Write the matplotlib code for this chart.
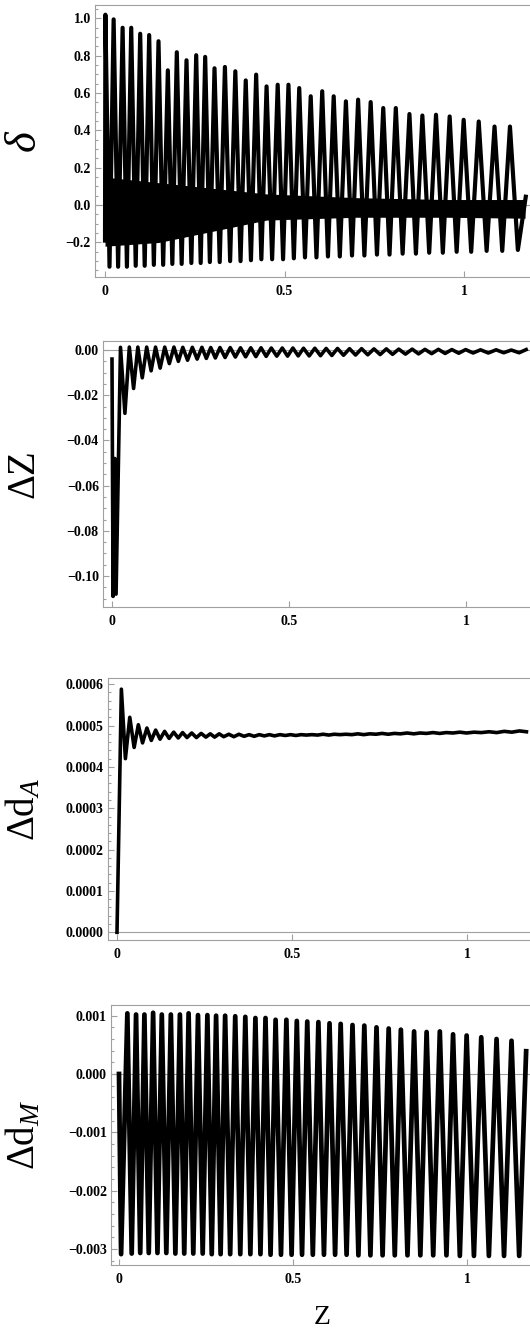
"""Four stacked panels (delta, dZ, d_A, d_M) against z, Mathematica-style frames."""

import matplotlib

matplotlib.use("Agg")
import matplotlib.pyplot as plt  # noqa: E402
from matplotlib.ticker import FixedLocator, MultipleLocator  # noqa: E402

plt.rcParams["font.family"] = "serif"
plt.rcParams["font.serif"] = ["Liberation Serif", "DejaVu Serif"]
plt.rcParams["mathtext.fontset"] = "custom"
plt.rcParams["mathtext.rm"] = "Liberation Serif"
plt.rcParams["mathtext.it"] = "Liberation Serif:italic"

# --- data --------------------------------------------------------------------
# positions of the oscillation crests / troughs shared by all four panels
z_crest = [0.024, 0.049, 0.073, 0.098, 0.123, 0.149, 0.175, 0.200, 0.227, 0.254,
           0.279, 0.305, 0.334, 0.363, 0.392, 0.421, 0.450, 0.481, 0.511, 0.541,
           0.573, 0.605, 0.637, 0.671, 0.705, 0.740, 0.775, 0.810, 0.848, 0.884,
           0.922, 0.960, 0.999, 1.041, 1.085, 1.128]
z_trough = [0.0365, 0.061, 0.0855, 0.1105, 0.136, 0.162, 0.1875, 0.2135, 0.2405,
            0.2665, 0.292, 0.3195, 0.3485, 0.3775, 0.4065, 0.4355, 0.4655, 0.496,
            0.526, 0.557, 0.589, 0.621, 0.654, 0.688, 0.7225, 0.7575, 0.7925,
            0.829, 0.866, 0.903, 0.941, 0.9795, 1.020, 1.063, 1.1065, 1.150]

# delta
delta_head_z = [0.0, 0.001, 0.0125]
delta_head = [-0.19, 1.02, -0.33]
delta_crest = [0.995, 0.95, 0.95, 0.918, 0.911, 0.878, 0.722, 0.819, 0.776, 0.803,
               0.794, 0.733, 0.740, 0.717, 0.668, 0.699, 0.636, 0.645, 0.645, 0.627,
               0.583, 0.610, 0.583, 0.556, 0.565, 0.552, 0.520, 0.520, 0.488, 0.480,
               0.484, 0.475, 0.457, 0.448, 0.421, 0.421]
delta_trough = [-0.33, -0.33, -0.325, -0.325, -0.32, -0.32, -0.315, -0.315, -0.31,
                -0.31, -0.305, -0.305, -0.30, -0.30, -0.295, -0.29, -0.29, -0.29,
                -0.285, -0.28, -0.28, -0.275, -0.275, -0.27, -0.27, -0.265, -0.265,
                -0.26, -0.26, -0.255, -0.255, -0.25, -0.25, -0.245, -0.245, -0.24]
delta_end = (1.172, 0.045)
# the fast ripple that blackens the middle of the delta panel
band_z = [0.0, 0.15, 0.3, 0.45, 0.7, 0.95, 1.17]
band_lo = [-0.22, -0.20, -0.14, -0.08, -0.065, -0.065, -0.07]
band_hi = [0.15, 0.12, 0.09, 0.06, 0.04, 0.03, 0.03]

# Delta Z
dz_head_z = [0.0, 0.003, 0.008, 0.0115]
dz_head = [-0.004, -0.109, -0.048, -0.108]
dz_crest = [0.0012, 0.0013, 0.0013, 0.0013, 0.0013, 0.0013, 0.0013, 0.0012, 0.0012,
            0.0012, 0.0011, 0.0011, 0.0011, 0.0010, 0.0010, 0.0010, 0.0009, 0.0009,
            0.0009, 0.0008, 0.0008, 0.0007, 0.0007, 0.0006, 0.0006, 0.0005, 0.0005,
            0.0004, 0.0004, 0.0003, 0.0003, 0.0002, 0.0002, 0.0001, 0.0001, 0.0000]
dz_trough = [-0.028, -0.017, -0.0123, -0.0092, -0.0080, -0.0060, -0.0050, -0.0045,
             -0.0040, -0.0037, -0.0035, -0.0033, -0.0031, -0.0030, -0.0029, -0.0028,
             -0.0027, -0.0027, -0.0026, -0.0026, -0.0025, -0.0024, -0.0023, -0.0022,
             -0.0021, -0.0020, -0.0019, -0.0018, -0.0017, -0.0016, -0.0015, -0.0014,
             -0.0013, -0.0013, -0.0012, -0.0012]
dz_end = (1.170, 0.0002)

# Delta d_A (lows sit on the crest positions, highs on the trough positions)
da_head_z = [0.0, 0.0125]
da_head = [0.0, 0.000588]
da_crest = [0.000420, 0.000447, 0.000458, 0.000464, 0.000467, 0.000469, 0.000470,
            0.000471, 0.000471, 0.000472, 0.000472, 0.000473, 0.000473, 0.000474,
            0.000474, 0.000475, 0.000475, 0.000476, 0.000476, 0.000477, 0.000477,
            0.000477, 0.000478, 0.000478, 0.000478, 0.000479, 0.000479, 0.000480,
            0.000480, 0.000481, 0.000481, 0.000482, 0.000482, 0.000483, 0.000483,
            0.000484]
da_trough = [0.000520, 0.000502, 0.000494, 0.000489, 0.000486, 0.000484, 0.000483,
             0.000482, 0.000481, 0.000480, 0.000480, 0.000479, 0.000479, 0.000478,
             0.000478, 0.000478, 0.000478, 0.000478, 0.000478, 0.000478, 0.000479,
             0.000479, 0.000479, 0.000480, 0.000480, 0.000481, 0.000481, 0.000482,
             0.000482, 0.000483, 0.000483, 0.000484, 0.000484, 0.000485, 0.000486,
             0.000487]
da_end = (1.170, 0.000485)

# Delta d_M
dm_head_z = [0.0, 0.006]
dm_head = [0.0, -0.00309]
dm_crest = [0.00104, 0.00102, 0.00102, 0.00105, 0.00102, 0.00102, 0.00102, 0.00104,
            0.00101, 0.00101, 0.00100, 0.00100, 0.00099, 0.00098, 0.00096, 0.00096,
            0.00093, 0.00093, 0.00091, 0.00090, 0.00089, 0.00087, 0.00086, 0.00084,
            0.00083, 0.00080, 0.00078, 0.00076, 0.00073, 0.00072, 0.00073, 0.00068,
            0.00066, 0.00063, 0.00060, 0.00057]
dm_trough = [-0.00308, -0.00307, -0.00307, -0.00307, -0.00307, -0.00308, -0.00308,
             -0.00308, -0.00308, -0.00309, -0.00309, -0.00309, -0.00309, -0.00309,
             -0.00309, -0.00310, -0.00310, -0.00310, -0.00310, -0.00310, -0.00310,
             -0.00310, -0.00310, -0.00311, -0.00311, -0.00311, -0.00311, -0.00311,
             -0.00311, -0.00311, -0.00311, -0.00312, -0.00312, -0.00312, -0.00312,
             -0.00312]
dm_end = (1.170, 0.00039)

x_ticks = [0, 0.5, 1]
x_ticklabels = ["0", "0.5", "1"]


def trace(head_z, head_v, crest_v, trough_v, end):
    z, v = list(head_z), list(head_v)
    for zc, vc, zt, vt in zip(z_crest, crest_v, z_trough, trough_v):
        z += [zc, zt]
        v += [vc, vt]
    z.append(end[0])
    v.append(end[1])
    return z, v


W, H = 530, 1343
fig = plt.figure(figsize=(W / 100, H / 100), dpi=100)
GREY = "#a0a0a0"


def frame(px_left, px_top, px_bottom, xlim, ylim, yticks, ylabels, minor, label,
          **label_kw):
    ax = fig.add_axes([px_left / W, 1 - px_bottom / H, (531 - px_left) / W,
                       (px_bottom - px_top) / H])
    ax.set_xlim(*xlim)
    ax.set_ylim(*ylim)
    for s in ax.spines.values():
        s.set_color(GREY)
        s.set_linewidth(0.8)
    ax.axhline(0, color=GREY, lw=0.8, zorder=1)
    ax.xaxis.set_major_locator(FixedLocator(x_ticks))
    ax.set_xticklabels(x_ticklabels)
    ax.yaxis.set_major_locator(FixedLocator(yticks))
    ax.set_yticklabels(ylabels)
    ax.yaxis.set_minor_locator(MultipleLocator(minor))
    ax.tick_params(which="both", direction="in", color=GREY, width=0.8,
                   labelsize=10, top=False, right=False)
    ax.tick_params(which="major", length=4, pad=3)
    ax.tick_params(which="minor", length=2.2)
    ax.tick_params(axis="x", pad=6)
    for t in ax.get_xticklabels() + ax.get_yticklabels():
        t.set_fontweight("bold")
    fig.text(24 / W, 1 - (px_top + px_bottom) / 2 / H, label, rotation=90,
             ha="center", va="center", **label_kw)
    return ax


# --- panel 1: delta ----------------------------------------------------------
ax = frame(95, 5, 277, (-0.0279, 1.1866), (-0.385, 1.072),
           [-0.2, 0.0, 0.2, 0.4, 0.6, 0.8, 1.0],
           ["\u22120.2", "0.0", "0.2", "0.4", "0.6", "0.8", "1.0"], 0.05,
           "\u03b4", fontsize=32, fontstyle="italic")
z, v = trace(delta_head_z, delta_head, delta_crest, delta_trough, delta_end)
ax.fill_between(band_z, band_lo, band_hi, color="k", lw=0, zorder=2)
ax.plot(z, v, color="k", lw=3.0, zorder=3)

# --- panel 2: Delta Z --------------------------------------------------------
ax = frame(103, 341, 607, (-0.0254, 1.1836), (-0.1137, 0.0040),
           [-0.10, -0.08, -0.06, -0.04, -0.02, 0.00],
           ["\u22120.10", "\u22120.08", "\u22120.06", "\u22120.04", "\u22120.02", "0.00"],
           0.005, "\u0394Z", fontsize=28)
z, v = trace(dz_head_z, dz_head, dz_crest, dz_trough, dz_end)
ax.plot(z, v, color="k", lw=2.6, zorder=3)

# --- panel 3: Delta d_A ------------------------------------------------------
ax = frame(108, 678, 940, (-0.0257, 1.183), (-0.0000186, 0.000615),
           [0.0, 0.0001, 0.0002, 0.0003, 0.0004, 0.0005, 0.0006],
           ["0.0000", "0.0001", "0.0002", "0.0003", "0.0004", "0.0005", "0.0006"],
           0.00002, r"$\Delta\mathrm{d}_{A}$", fontsize=28)
z, v = trace(da_head_z, da_head, da_crest, da_trough, da_end)
ax.plot(z, v, color="k", lw=2.6, zorder=3)

# --- panel 4: Delta d_M ------------------------------------------------------
ax = frame(111, 1005, 1265, (-0.023, 1.184), (-0.003276, 0.001183),
           [-0.003, -0.002, -0.001, 0.0, 0.001],
           ["\u22120.003", "\u22120.002", "\u22120.001", "0.000", "0.001"],
           0.0002, r"$\Delta\mathrm{d}_{M}$", fontsize=28)
z, v = trace(dm_head_z, dm_head, dm_crest, dm_trough, dm_end)
ax.plot(z, v, color="k", lw=3.4, zorder=3)

fig.text(322 / W, 1 - 1318 / H, "Z", ha="center", va="center", fontsize=20)

fig.savefig("out.png", dpi=100)
